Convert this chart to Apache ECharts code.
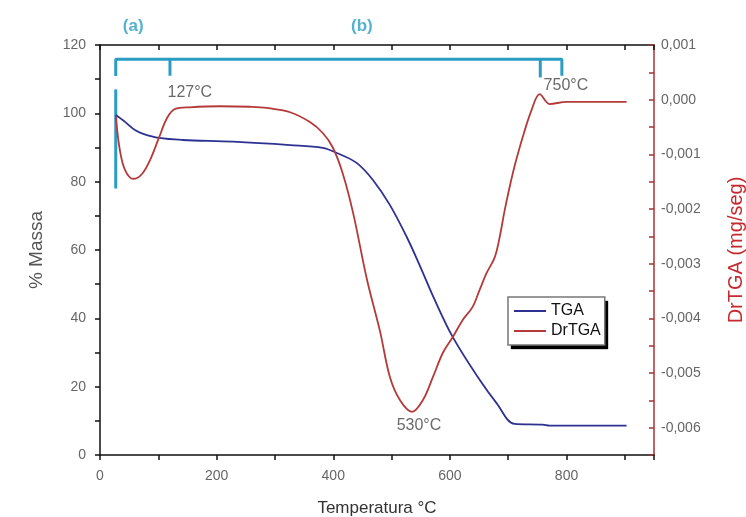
<!DOCTYPE html>
<html>
<head>
<meta charset="utf-8">
<script src="https://cdn.jsdelivr.net/npm/echarts@6/dist/echarts.min.js"></script>
<style>
  html, body { margin: 0; padding: 0; background: #fff; }
  #chart { width: 746px; height: 517px; }
</style>
</head>
<body>
<div id="chart"></div>
<script>
// TGA curve: temperature (°C) -> % mass
const tgaTemp = [27, 43, 60, 74, 101, 142, 228, 326, 382, 406, 440, 468, 497, 526, 548, 574, 605, 651, 680, 711, 759, 771, 903]
const tgaMass = [99.5, 97.5, 95.1, 94, 92.8, 92.2, 91.7, 90.7, 89.9, 88.4, 85.5, 80.5, 73.2, 63.8, 55.6, 45.4, 34.5, 22, 15.2, 9.1, 8.9, 8.6, 8.6]

// DrTGA curve: temperature (°C) -> mg/seg
const drTemp = [27, 34, 43, 57, 72, 86, 101, 115, 129, 154, 206, 257, 286, 326, 360, 382, 399, 416, 434, 458, 480, 497, 514, 535, 554, 571, 588, 605, 622, 639, 651, 663, 677, 686, 694, 708, 725, 740, 754, 771, 800, 903]
const drVal = [-0.0003, -0.00092, -0.00129, -0.00145, -0.00136, -0.0011, -0.0007, -0.000335, -0.00017, -0.00014, -0.00012, -0.00013, -0.00015, -0.00023, -0.00041, -0.00061, -0.00087, -0.00134, -0.00207, -0.0033, -0.00423, -0.00507, -0.00549, -0.00571, -0.00549, -0.00507, -0.00463, -0.00434, -0.00403, -0.00379, -0.00348, -0.00317, -0.00288, -0.00248, -0.00202, -0.00134, -0.00068, -0.00019, 0.0001, -0.00008, -0.00004, -0.00004]

// bracket annotation (temperature, % mass)
const bracketMain = [[27, 110.9], [27, 115.8], [792, 115.8], [792, 111]]
const bracket127 = [[120, 115.8], [120, 111]]
const bracket750 = [[755, 115.8], [755, 110.5]]
const bracketLeft = [[27, 107], [27, 78]]

// text notes (temperature, % mass, text)
const notes = [
  [154, 106, '127°C'],
  [799, 108, '750°C'],
  [547, 8.5, '530°C']
]
const regionNotes = [
  [57, 125.5, '(a)'],
  [449, 125.5, '(b)']
]

const zip = (a, b) => a.map((v, i) => [v, b[i]])

const chart = echarts.init(document.getElementById('chart'))

const teal = '#2a9dc4'
const bracketSeries = (data) => ({
  type: 'line',
  data: data,
  symbol: 'none',
  silent: true,
  clip: false,
  lineStyle: { color: teal, width: 3 },
  z: 1
})

// two stacked legends: the lower one gives the drop shadow, the upper one the border
const legendBase = {
  data: ['TGA', 'DrTGA'],
  orient: 'vertical',
  left: 508,
  top: 297,
  padding: [6, 4, 6, 6],
  itemWidth: 32,
  itemHeight: 10,
  itemGap: 4,
  borderRadius: 0,
  textStyle: { color: '#111', fontSize: 16 },
  icon: 'path://M0,4 L32,4 L32,6 L0,6 Z'
}

chart.setOption({
  animation: false,
  backgroundColor: '#fff',
  textStyle: { fontFamily: 'Liberation Sans, Arial, sans-serif' },
  grid: { left: 100, right: 92, top: 45, bottom: 62, containLabel: false, outerBoundsMode: 'none' },
  legend: [
    Object.assign({}, legendBase, {
      backgroundColor: '#fff',
      borderWidth: 0,
      shadowColor: '#000',
      shadowBlur: 1,
      shadowOffsetX: 3,
      shadowOffsetY: 4,
      textStyle: { color: 'rgba(0,0,0,0)', fontSize: 16 }
    }),
    Object.assign({}, legendBase, {
      backgroundColor: 'transparent',
      borderColor: '#777',
      borderWidth: 1.5
    })
  ],
  xAxis: [
    {
      type: 'value',
      min: 0,
      max: 950,
      interval: 100,
      position: 'bottom',
      name: 'Temperatura °C',
      nameLocation: 'middle',
      nameGap: 45,
      nameTextStyle: { color: '#333', fontSize: 17 },
      axisLine: { onZero: false, lineStyle: { color: '#111', width: 1.5 } },
      axisTick: { length: 5, lineStyle: { color: '#111', width: 1.5 } },
      axisLabel: {
        color: '#666',
        fontSize: 14,
        margin: 14,
        formatter: (v) => (v % 200 === 0 ? String(v) : '')
      },
      splitLine: { show: false }
    },
    {
      type: 'value',
      min: 0,
      max: 950,
      interval: 100,
      position: 'top',
      axisLine: { onZero: false, lineStyle: { color: '#111', width: 1.5 } },
      axisTick: { inside: true, length: 5, lineStyle: { color: '#111', width: 1.5 } },
      axisLabel: { show: false },
      splitLine: { show: false }
    }
  ],
  yAxis: [
    {
      type: 'value',
      min: 0,
      max: 120,
      interval: 10,
      position: 'left',
      name: '% Massa',
      nameLocation: 'middle',
      nameRotate: 90,
      nameGap: 54,
      nameTextStyle: { color: '#555', fontSize: 19 },
      axisLine: { show: true, onZero: false, lineStyle: { color: '#111', width: 1.5 } },
      axisTick: { show: true, length: 5, lineStyle: { color: '#111', width: 1.5 } },
      axisLabel: {
        color: '#666',
        fontSize: 14,
        margin: 14,
        formatter: (v) => (v % 20 === 0 ? String(v) : '')
      },
      splitLine: { show: false }
    },
    {
      type: 'value',
      min: -0.0065,
      max: 0.001,
      interval: 0.0005,
      position: 'right',
      name: 'DrTGA (mg/seg)',
      nameLocation: 'middle',
      nameRotate: 90,
      nameGap: 72,
      nameTextStyle: { color: '#c62a2f', fontSize: 20 },
      axisLine: { show: true, onZero: false, lineStyle: { color: '#a83232', width: 1.5 } },
      axisTick: { show: true, inside: true, length: 5, lineStyle: { color: '#a83232', width: 1.5 } },
      axisLabel: {
        color: '#666',
        fontSize: 14,
        margin: 7,
        formatter: (v) => {
          const k = Math.round(v * 10000)
          if (k % 10 !== 0 || k === -65) return ''
          return (k / 10000).toFixed(3).replace('.', ',')
        }
      },
      splitLine: { show: false }
    }
  ],
  series: [
    bracketSeries(bracketMain),
    bracketSeries(bracket127),
    bracketSeries(bracket750),
    bracketSeries(bracketLeft),
    {
      name: 'TGA',
      type: 'line',
      data: zip(tgaTemp, tgaMass),
      symbol: 'none',
      smooth: 0.35,
      lineStyle: { color: '#2c3192', width: 1.8 },
      itemStyle: { color: '#2c3192' },
      z: 3
    },
    {
      name: 'DrTGA',
      type: 'line',
      yAxisIndex: 1,
      data: zip(drTemp, drVal),
      symbol: 'none',
      smooth: 0.35,
      lineStyle: { color: '#b43a3a', width: 1.8 },
      itemStyle: { color: '#b43a3a' },
      z: 3
    },
    {
      type: 'scatter',
      data: notes.map((n) => ({ value: [n[0], n[1]], label: { formatter: n[2] } })),
      symbolSize: 0,
      silent: true,
      clip: false,
      label: { show: true, position: 'inside', color: '#444', fontSize: 16 },
      z: 4
    },
    {
      type: 'scatter',
      data: regionNotes.map((n) => ({ value: [n[0], n[1]], label: { formatter: n[2] } })),
      symbolSize: 0,
      silent: true,
      clip: false,
      label: { show: true, position: 'inside', color: teal, fontSize: 17, fontWeight: 'bold' },
      z: 4
    }
  ]
})
</script>
</body>
</html>
